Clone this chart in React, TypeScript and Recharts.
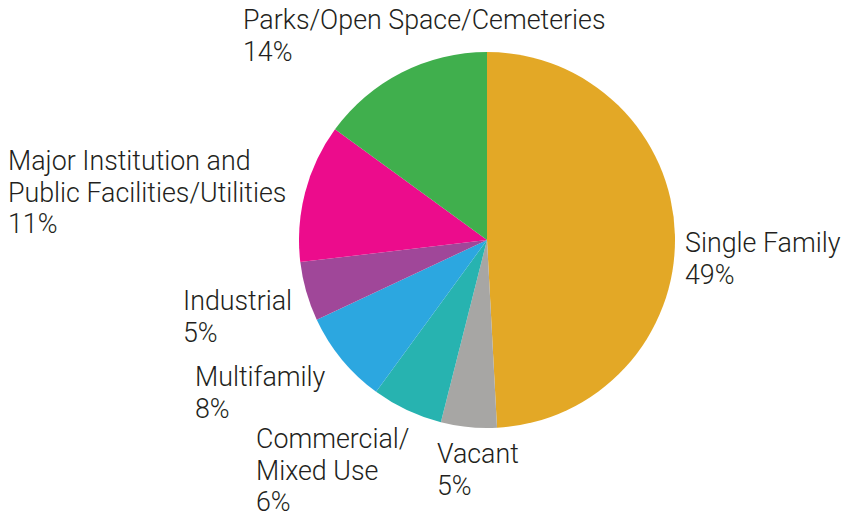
import { PieChart, Pie, Cell } from 'recharts'

const categories = [
  'Single Family',
  'Vacant',
  'Commercial/\nMixed Use',
  'Multifamily',
  'Industrial',
  'Major Institution and\nPublic Facilities/Utilities',
  'Parks/Open Space/Cemeteries',
]
const shares = [49.2, 4.8, 6.1, 8.0, 5.1, 11.9, 15.0]
const shareLabels = ['49%', '5%', '6%', '8%', '5%', '11%', '14%']
const colors = ['#E3A826', '#A7A6A4', '#27B3B0', '#2CA7E0', '#A04799', '#EC0C8C', '#40AF4D']

// label anchors (left x, first baseline y)
const labelPos = [
  { x: 685, y: 252 },
  { x: 437, y: 463 },
  { x: 256, y: 448 },
  { x: 195, y: 386 },
  { x: 183, y: 310 },
  { x: 8, y: 170 },
  { x: 243, y: 29 },
]

const data = categories.map((name, i) => ({ name, value: shares[i], pct: shareLabels[i] }))

const LINE = 31.5

function renderLabel(props: any) {
  const i = props.index
  const pos = labelPos[i]
  const lines = [...data[i].name.split('\n'), data[i].pct]
  return (
    <text
      x={pos.x}
      y={pos.y}
      fill="#231f20"
      fontSize={26.8}
      fontFamily="Roboto"
      fontWeight={300}
      textAnchor="start"
    >
      {lines.map((l, k) => (
        <tspan key={k} x={pos.x} y={pos.y + k * LINE}>
          {l}
        </tspan>
      ))}
    </text>
  )
}

export default function App() {
  return (
    <div style={{ position: 'absolute', left: 0, top: 0, width: 844, height: 519, background: '#fff' }}>
      <PieChart width={844} height={519} margin={{ top: 0, right: 0, bottom: 0, left: 0 }}>
        <Pie
          data={data}
          dataKey="value"
          nameKey="name"
          cx={487}
          cy={240}
          outerRadius={188}
          startAngle={90}
          endAngle={-270}
          stroke="none"
          label={renderLabel}
          labelLine={false}
          isAnimationActive={false}
        >
          {data.map((d, i) => (
            <Cell key={d.name} fill={colors[i]} />
          ))}
        </Pie>
      </PieChart>
    </div>
  )
}
